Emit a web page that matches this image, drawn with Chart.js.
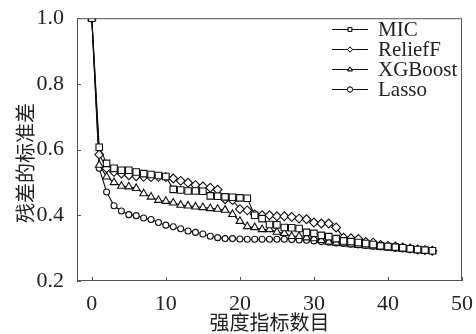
<!DOCTYPE html>
<html>
<head>
<meta charset="utf-8">
<script src="https://cdn.jsdelivr.net/npm/chart.js@4/dist/chart.umd.min.js"></script>
<style>
  html, body { margin: 0; padding: 0; background: #fff; }
  canvas { display: block; }
</style>
</head>
<body>
<canvas id="chart" width="476" height="334"></canvas>
<script>
// number of strength indicators (x)
const xValues = [0, 1, 2, 3, 4, 5, 6, 7, 8, 9, 10, 11, 12, 13, 14, 15, 16, 17, 18, 19, 20, 21, 22, 23,
  24, 25, 26, 27, 28, 29, 30, 31, 32, 33, 34, 35, 36, 37, 38, 39, 40, 41, 42, 43, 44, 45, 46];

const micValues = [1.0, 0.607, 0.558, 0.543, 0.537, 0.537, 0.532, 0.527, 0.524, 0.521, 0.518, 0.479,
  0.477, 0.474, 0.474, 0.473, 0.459, 0.458, 0.456, 0.455, 0.453, 0.452, 0.400, 0.390, 0.372, 0.371,
  0.363, 0.362, 0.360, 0.348, 0.345, 0.339, 0.335, 0.329, 0.322, 0.320, 0.317, 0.314, 0.311, 0.307,
  0.305, 0.303, 0.301, 0.298, 0.296, 0.294, 0.292];

const reliefValues = [1.0, 0.585, 0.543, 0.532, 0.527, 0.522, 0.519, 0.517, 0.516, 0.517, 0.516, 0.512,
  0.505, 0.499, 0.492, 0.488, 0.484, 0.478, 0.449, 0.446, 0.419, 0.415, 0.403, 0.400, 0.400, 0.397,
  0.397, 0.395, 0.390, 0.388, 0.378, 0.375, 0.375, 0.363, 0.332, 0.330, 0.328, 0.319, 0.317, 0.310,
  0.307, 0.305, 0.302, 0.299, 0.296, 0.294, 0.292];

const xgbValues = [1.0, 0.553, 0.517, 0.500, 0.489, 0.487, 0.482, 0.466, 0.456, 0.446, 0.443, 0.438,
  0.431, 0.429, 0.426, 0.424, 0.421, 0.419, 0.416, 0.403, 0.382, 0.366, 0.363, 0.357, 0.357, 0.349,
  0.345, 0.336, 0.336, 0.332, 0.329, 0.324, 0.319, 0.316, 0.314, 0.311, 0.309, 0.307, 0.305, 0.303,
  0.301, 0.299, 0.297, 0.295, 0.293, 0.292, 0.291];

const lassoValues = [1.0, 0.543, 0.471, 0.429, 0.413, 0.402, 0.399, 0.392, 0.387, 0.378, 0.370, 0.365,
  0.359, 0.352, 0.348, 0.343, 0.336, 0.332, 0.329, 0.329, 0.328, 0.327, 0.327, 0.327, 0.327, 0.327,
  0.327, 0.326, 0.325, 0.324, 0.322, 0.320, 0.318, 0.316, 0.314, 0.312, 0.310, 0.308, 0.306, 0.304,
  0.302, 0.300, 0.298, 0.296, 0.294, 0.292, 0.291];

const seriesNames = ["MIC", "ReliefF", "XGBoost", "Lasso"];
const xTicks = [0, 10, 20, 30, 40, 50];
const yTicks = [0.2, 0.4, 0.6, 0.8, 1.0];

const serif = "'Liberation Serif', 'Times New Roman', serif";
const cjk = "'Noto Sans CJK SC', sans-serif";
const ink = "#111";
const frame = "#555";

function toPoints(vals) {
  return vals.map((v, i) => ({ x: xValues[i], y: v }));
}

function makeSet(label, vals, style, radius) {
  return {
    label: label,
    data: toPoints(vals),
    borderColor: ink,
    borderWidth: 1.1,
    backgroundColor: "#fff",
    pointStyle: style,
    pointRadius: radius,
    pointBorderWidth: 1.1,
    pointBorderColor: ink,
    pointBackgroundColor: "#fff",
    tension: 0
  };
}

// frame, inward ticks, y title and the line+marker legend
const decorPlugin = {
  id: "decor",
  afterDraw(chart) {
    const ctx = chart.ctx;
    const area = chart.chartArea;
    const xs = chart.scales.x, ys = chart.scales.y;
    ctx.save();
    ctx.strokeStyle = frame;
    ctx.lineWidth = 1;
    ctx.strokeRect(area.left + 0.5, area.top + 0.5, area.right - area.left - 1, area.bottom - area.top - 1);
    ctx.beginPath();
    xTicks.forEach(v => {
      const px = Math.round(xs.getPixelForValue(v)) + 0.5;
      ctx.moveTo(px, area.bottom);
      ctx.lineTo(px, area.bottom - 4);
    });
    yTicks.forEach(v => {
      const py = Math.round(ys.getPixelForValue(v)) + 0.5;
      ctx.moveTo(area.left, py);
      ctx.lineTo(area.left + 4, py);
    });
    ctx.stroke();

    // y axis title
    ctx.save();
    ctx.translate(25, 163);
    ctx.rotate(-Math.PI / 2);
    ctx.fillStyle = "#222";
    ctx.font = "20px " + cjk;
    ctx.textAlign = "center";
    ctx.textBaseline = "middle";
    ctx.fillText("残差的标准差", 0, 0);
    ctx.restore();

    // legend
    ctx.font = "21px " + serif;
    ctx.textAlign = "left";
    ctx.textBaseline = "middle";
    chart.data.datasets.forEach((ds, i) => {
      const y = 29.5 + 20 * i;
      ctx.strokeStyle = ink;
      ctx.lineWidth = 1;
      ctx.beginPath();
      ctx.moveTo(332, y);
      ctx.lineTo(368, y);
      ctx.stroke();
      ctx.fillStyle = "#fff";
      Chart.helpers.drawPoint(ctx, { pointStyle: ds.pointStyle, radius: 2.6, rotation: 0, borderWidth: 1 }, 350, y);
      ctx.fill();
      ctx.stroke();
      ctx.fillStyle = "#222";
      ctx.fillText(ds.label, 378, y + 1);
    });
    ctx.restore();
  }
};

const data = {
  datasets: [
    makeSet(seriesNames[0], micValues, "rect", 4.6),
    makeSet(seriesNames[1], reliefValues, "rectRot", 4.4),
    makeSet(seriesNames[2], xgbValues, "triangle", 4.4),
    makeSet(seriesNames[3], lassoValues, "circle", 3)
  ]
};

const options = {
  responsive: false,
  animation: false,
  devicePixelRatio: 1,
  layout: { padding: { top: 18, right: 14, left: 0, bottom: 0 } },
  plugins: {
    legend: { display: false },
    tooltip: { enabled: false }
  },
  scales: {
    x: {
      type: "linear",
      min: -2,
      max: 50,
      afterFit: s => { s.height = 53; },
      afterBuildTicks: s => { s.ticks = xTicks.map(v => ({ value: v })); },
      grid: { display: false },
      border: { display: false },
      ticks: {
        color: "#222",
        padding: 2,
        maxRotation: 0,
        font: { family: serif, size: 22 }
      },
      title: {
        display: true,
        text: "强度指标数目",
        color: "#222",
        padding: { top: 0, bottom: 0 },
        font: { family: cjk, size: 20 }
      }
    },
    y: {
      min: 0.2,
      max: 1.0,
      afterFit: s => { s.width = 77; },
      afterBuildTicks: s => { s.ticks = yTicks.map(v => ({ value: v })); },
      grid: { display: false },
      border: { display: false },
      ticks: {
        color: "#222",
        padding: 5,
        font: { family: serif, size: 22 },
        callback: v => v.toFixed(1)
      }
    }
  }
};

new Chart(document.getElementById("chart").getContext("2d"), {
  type: "line",
  data: data,
  options: options,
  plugins: [decorPlugin]
});
</script>
</body>
</html>
